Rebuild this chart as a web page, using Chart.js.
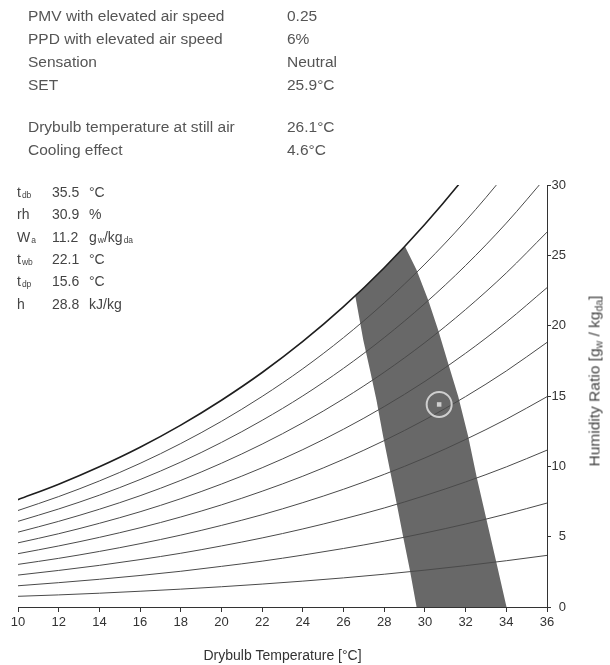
<!DOCTYPE html>
<html>
<head>
<meta charset="utf-8">
<script src="https://cdn.jsdelivr.net/npm/chart.js@4.4.1/dist/chart.umd.min.js"></script>
<style>
  body { margin: 0; width: 610px; height: 665px; position: relative; overflow: hidden; background: #fff;
         font-family: "Liberation Sans", Arial, sans-serif; color: #555; }
  #chart { position: absolute; left: 0; top: 0; }
  .row { position: absolute; white-space: nowrap; line-height: 16px; }
  .res { font-size: 15.5px; color: #555; }
  .inp { font-size: 14px; color: #444; }
  .inp sub { font-size: 8.5px; vertical-align: baseline; position: relative; top: 1px; margin-left: 1px; }
  #ytitle { position: absolute; left: 595px; top: 381px; transform: translate(-50%, -50%) rotate(-90deg);
            white-space: nowrap; font-size: 15.5px; color: #444; line-height: 16px; }
  #ytitle sub { font-size: 10.5px; vertical-align: baseline; position: relative; top: 3px; }
</style>
</head>
<body>
<canvas id="chart" width="610" height="665"></canvas>
<div id="info"></div>
<div id="ytitle">Humidity Ratio [g<sub>w</sub> / kg<sub>da</sub>]</div>
<script>
// results text
const resultLabels = ["PMV with elevated air speed", "PPD with elevated air speed", "Sensation", "SET",
                      "Drybulb temperature at still air", "Cooling effect"];
const resultValues = ["0.25", "6%", "Neutral", "25.9°C", "26.1°C", "4.6°C"];

// input conditions shown at top-left of the chart
const inputNames = ["t", "rh", "W", "t", "t", "h"];
const inputSubs = ["db", "", "a", "wb", "dp", ""];
const inputValues = ["35.5", "30.9", "11.2", "22.1", "15.6", "28.8"];
const inputUnits = ["°C", "%", "g<sub>w</sub>/kg<sub>da</sub>", "°C", "°C", "kJ/kg"];

// psychrometric chart: relative humidity curves (g/kg) at each drybulb temperature
const temps = [10, 12, 14, 16, 18, 20, 22, 24, 26, 28, 30, 32, 34, 36];
const rh10 = [0.76, 0.86, 0.98, 1.12, 1.27, 1.44, 1.63, 1.84, 2.07, 2.33, 2.62, 2.94, 3.29, 3.67];
const rh20 = [1.51, 1.73, 1.97, 2.24, 2.54, 2.89, 3.26, 3.69, 4.16, 4.68, 5.26, 5.90, 6.61, 7.39];
const rh30 = [2.27, 2.60, 2.96, 3.37, 3.82, 4.34, 4.91, 5.55, 6.26, 7.04, 7.92, 8.89, 9.96, 11.15];
const rh40 = [3.03, 3.46, 3.95, 4.50, 5.11, 5.80, 6.56, 7.42, 8.37, 9.43, 10.60, 11.91, 13.35, 14.95];
const rh50 = [3.79, 4.34, 4.95, 5.63, 6.40, 7.26, 8.23, 9.30, 10.50, 11.83, 13.31, 14.96, 16.78, 18.81];
const rh60 = [4.56, 5.21, 5.95, 6.77, 7.70, 8.74, 9.90, 11.19, 12.64, 14.25, 16.04, 18.04, 20.25, 22.70];
const rh70 = [5.32, 6.09, 6.95, 7.91, 9.00, 10.22, 11.58, 13.10, 14.80, 16.69, 18.80, 21.15, 23.75, 26.65];
const rh80 = [6.09, 6.97, 7.95, 9.06, 10.30, 11.70, 13.27, 15.01, 16.97, 19.15, 21.58, 24.28, 27.29, 30.64];
const rh90 = [6.86, 7.85, 8.96, 10.21, 11.62, 13.20, 14.97, 16.94, 19.15, 21.62, 24.38, 27.45, 30.87, 34.69];
const saturation = [7.63, 8.73, 9.97, 11.36, 12.93, 14.70, 16.67, 18.88, 21.35, 24.12, 27.21, 30.65, 34.50, 38.78];

// comfort zone outline (drybulb °C, humidity ratio g/kg), walked round the shape
const zoneT = [29.59, 29.26, 28.93, 28.61, 28.28, 27.95, 27.62, 27.30, 26.97, 26.58, 27.0, 28.0, 29.02,
               29.59, 30.16, 30.65, 31.14, 31.64, 32.13, 32.54, 33.03, 33.52, 34.01];
const zoneW = [0, 2.63, 5.0, 7.37, 9.74, 12.1, 14.7, 16.84, 18.98, 22.1, 22.70, 24.12, 25.63,
               23.95, 21.82, 19.69, 17.32, 14.95, 12.10, 9.26, 6.18, 3.11, 0];

// current condition
const pointT = 30.7;
const pointW = 14.4;

// ---- text blocks ----
const info = document.getElementById("info");
resultLabels.forEach((label, i) => {
    const center = 15.5 + i * 23.3 + (i >= 4 ? 18.3 : 0);
    info.insertAdjacentHTML("beforeend",
        `<div class="row res" style="left:28px;top:${center - 8}px">${label}</div>` +
        `<div class="row res" style="left:287px;top:${center - 8}px">${resultValues[i]}</div>`);
});
inputNames.forEach((name, i) => {
    const center = 192 + i * 22.3;
    const sub = inputSubs[i] ? `<sub>${inputSubs[i]}</sub>` : "";
    info.insertAdjacentHTML("beforeend",
        `<div class="row inp" style="left:17px;top:${center - 8}px">${name}${sub}</div>` +
        `<div class="row inp" style="left:52px;top:${center - 8}px">${inputValues[i]}</div>` +
        `<div class="row inp" style="left:89px;top:${center - 8}px">${inputUnits[i]}</div>`);
});

// ---- chart ----
Chart.defaults.font.family = '"Liberation Sans", Arial, sans-serif';
Chart.defaults.color = "#333";

const toPoints = (ys) => temps.map((t, i) => ({ x: t, y: ys[i] }));

const rhCurves = [rh10, rh20, rh30, rh40, rh50, rh60, rh70, rh80, rh90].map(ys => ({
    data: toPoints(ys),
    showLine: true,
    borderColor: "#4a4a4a",
    borderWidth: 1,
    pointRadius: 0,
    cubicInterpolationMode: "monotone",
    order: 5
}));

const datasets = [
    {
        data: zoneT.map((t, i) => ({ x: t, y: zoneW[i] })),
        showLine: true,
        fill: "shape",
        backgroundColor: "#686868",
        borderWidth: 0,
        borderColor: "rgba(0,0,0,0)",
        pointRadius: 0,
        order: 10
    },
    ...rhCurves,
    {
        data: toPoints(saturation),
        showLine: true,
        borderColor: "#1e1e1e",
        borderWidth: 1.6,
        pointRadius: 0,
        cubicInterpolationMode: "monotone",
        order: 4
    },
    {
        data: [{ x: pointT, y: pointW }],
        pointRadius: 12.5,
        pointBorderWidth: 2,
        pointBorderColor: "#cfcfcf",
        pointBackgroundColor: "rgba(0,0,0,0)",
        order: 1
    },
    {
        data: [{ x: pointT, y: pointW }],
        pointStyle: "rect",
        pointRadius: 3.2,
        pointBorderWidth: 0,
        pointBackgroundColor: "#cfcfcf",
        order: 0
    }
];

new Chart(document.getElementById("chart"), {
    type: "scatter",
    data: { datasets },
    options: {
        responsive: false,
        animation: false,
        events: [],
        devicePixelRatio: 1,
        layout: { padding: { left: 18, top: 185, right: 44, bottom: 0 } },
        plugins: { legend: { display: false }, tooltip: { enabled: false } },
        scales: {
            x: {
                type: "linear",
                min: 10,
                max: 36,
                afterFit: (scale) => { scale.height = 58; },
                ticks: { stepSize: 2, font: { size: 13 }, color: "#333", padding: 3 },
                grid: { drawOnChartArea: false, tickLength: 5, color: "#333" },
                border: { color: "#333", width: 1 },
                title: { display: true, text: "Drybulb Temperature [°C]", font: { size: 14 }, color: "#333",
                         padding: { top: 0, bottom: 0 } }
            },
            y: {
                type: "linear",
                position: "right",
                min: 0,
                max: 30,
                afterFit: (scale) => { scale.width = 19; },
                ticks: { stepSize: 5, font: { size: 13 }, color: "#333", padding: 1, crossAlign: "far" },
                grid: { drawOnChartArea: false, tickLength: 4, color: "#333" },
                border: { color: "#333", width: 1 }
            }
        }
    }
});
</script>
</body>
</html>
